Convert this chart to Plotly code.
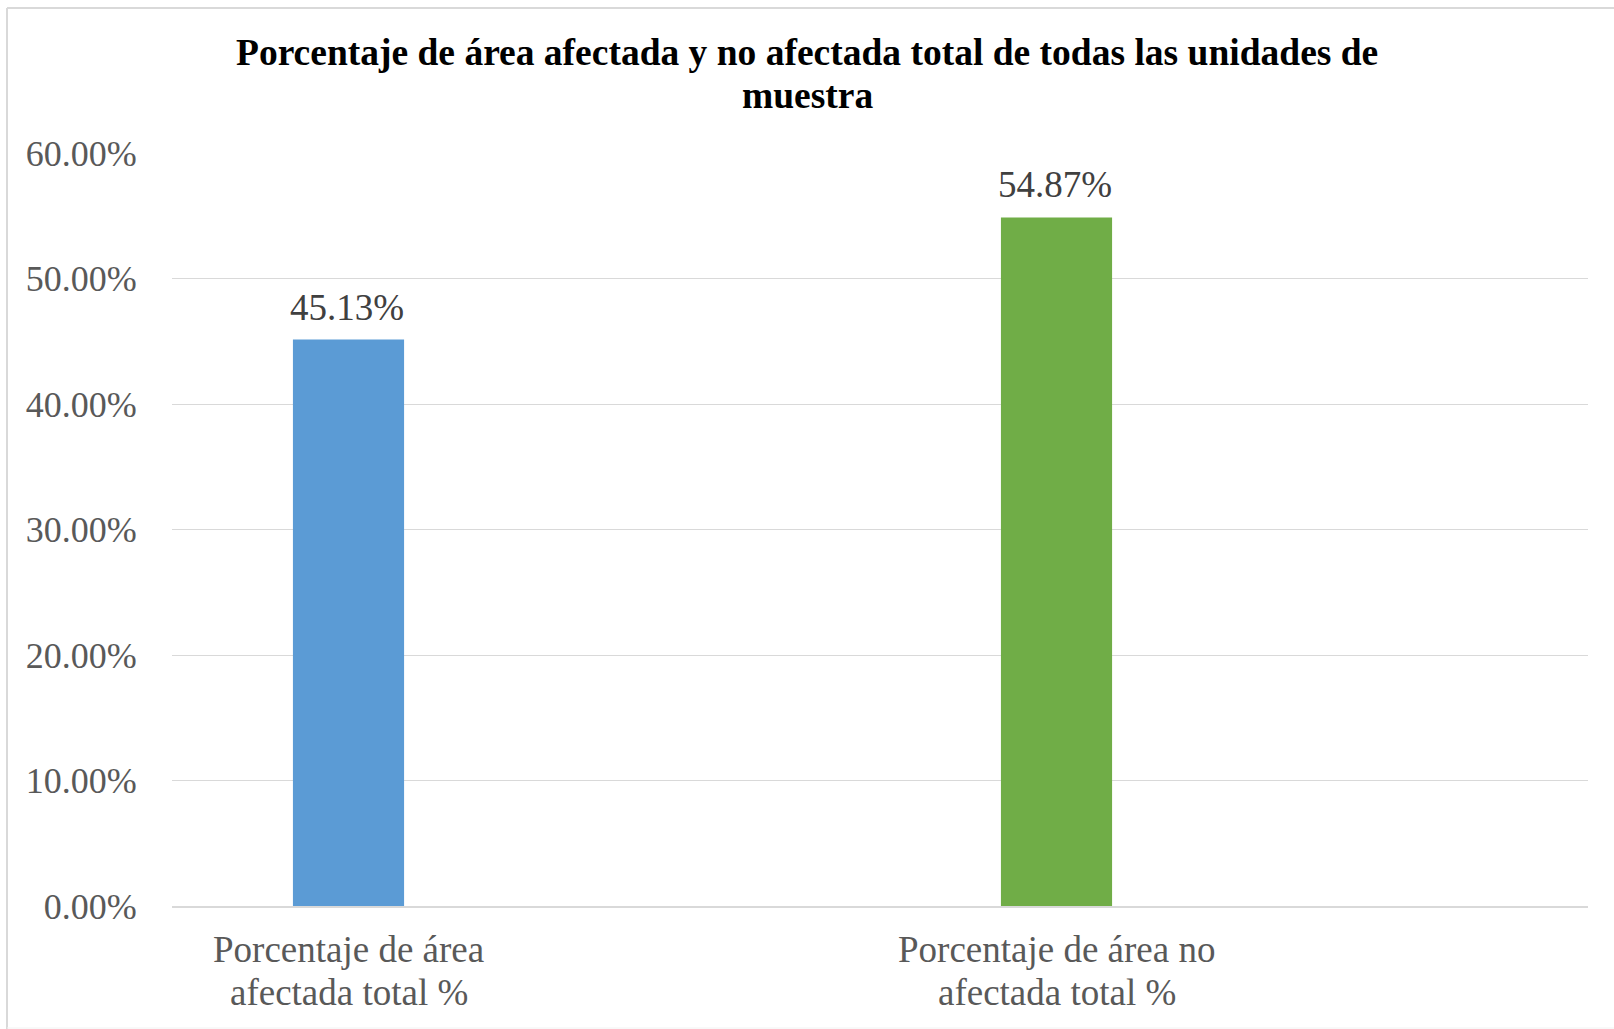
import plotly.graph_objects as go

# Data
categories = ["Porcentaje de área<br>afectada total %", "Porcentaje de área no<br>afectada total %"]
values = [0.4513, 0.5487]
bar_colors = ["#5B9BD5", "#70AD47"]
y_ticks = [0.0, 0.1, 0.2, 0.3, 0.4, 0.5, 0.6]
title_lines = ["Porcentaje de área afectada y no afectada total de todas las unidades de", "muestra"]

# Canvas / plot-area geometry (pixels)
W, H = 1614, 1029
PL, PR, PT, PB = 172, 1588, 153, 906
FONT = "Liberation Serif, Times New Roman, serif"


def paper_x(px):
    return (px - PL) / (PR - PL)


def paper_y(py):
    return (PB - py) / (PB - PT)


x_pos = list(range(len(categories)))

fig = go.Figure()
fig.add_trace(go.Bar(
    x=x_pos,
    y=values,
    width=0.157,
    marker=dict(color=bar_colors, line=dict(width=0)),
    hoverinfo="skip",
))

annotations = []
# value labels above each bar
for xi, v in zip(x_pos, values):
    annotations.append(dict(
        x=xi, y=v, xref="x", yref="y",
        text=f"{v * 100:.2f}%", showarrow=False,
        xanchor="center", yanchor="middle", yshift=32.5, xshift=-1.5,
        font=dict(family=FONT, size=37, color="#404040"),
    ))

# category labels, one annotation per line
for xi, cat in zip(x_pos, categories):
    for k, line in enumerate(cat.split("<br>")):
        annotations.append(dict(
            x=xi, y=paper_y(949.5 + 43 * k), xref="x", yref="paper",
            text=line, showarrow=False,
            xanchor="center", yanchor="middle",
            font=dict(family=FONT, size=37, color="#595959"),
        ))

# chart title, two lines
for k, line in enumerate(title_lines):
    annotations.append(dict(
        x=paper_x(807), y=paper_y(52.5 + 42.5 * k), xref="paper", yref="paper",
        text=f"<b>{line}</b>", showarrow=False,
        xanchor="center", yanchor="middle",
        font=dict(family=FONT, size=37.5, color="#000000"),
    ))

# chart-area frame (top, left, faint bottom)
frame = "#D9D9D9"
shapes = [
    dict(type="line", xref="paper", yref="paper",
         x0=paper_x(7), x1=paper_x(W + 5), y0=paper_y(8), y1=paper_y(8),
         line=dict(color=frame, width=2)),
    dict(type="line", xref="paper", yref="paper",
         x0=paper_x(7), x1=paper_x(7), y0=paper_y(8), y1=paper_y(H + 5),
         line=dict(color=frame, width=2)),
    dict(type="line", xref="paper", yref="paper",
         x0=paper_x(7), x1=paper_x(W + 5), y0=paper_y(1028), y1=paper_y(1028),
         line=dict(color="#F2F2F2", width=1)),
]

fig.update_layout(
    width=W, height=H,
    margin=dict(l=PL, r=W - PR, t=PT, b=H - PB, pad=0),
    paper_bgcolor="white", plot_bgcolor="white",
    showlegend=False,
    annotations=annotations,
    shapes=shapes,
    font=dict(family=FONT),
    xaxis=dict(
        range=[-0.2493, 1.7507], showticklabels=False, showgrid=False,
        zeroline=False, showline=True, linecolor=frame, linewidth=2,
        ticks="", fixedrange=True,
    ),
    yaxis=dict(
        range=[0, 0.6], tickvals=y_ticks, tickformat=".2%",
        showgrid=True, gridcolor=frame, gridwidth=1.3,
        zeroline=False, showline=False,
        ticks="outside", ticklen=27, tickcolor="rgba(0,0,0,0)",
        tickfont=dict(family=FONT, size=36, color="#595959"),
        fixedrange=True,
    ),
)

fig.write_html("out.html")
